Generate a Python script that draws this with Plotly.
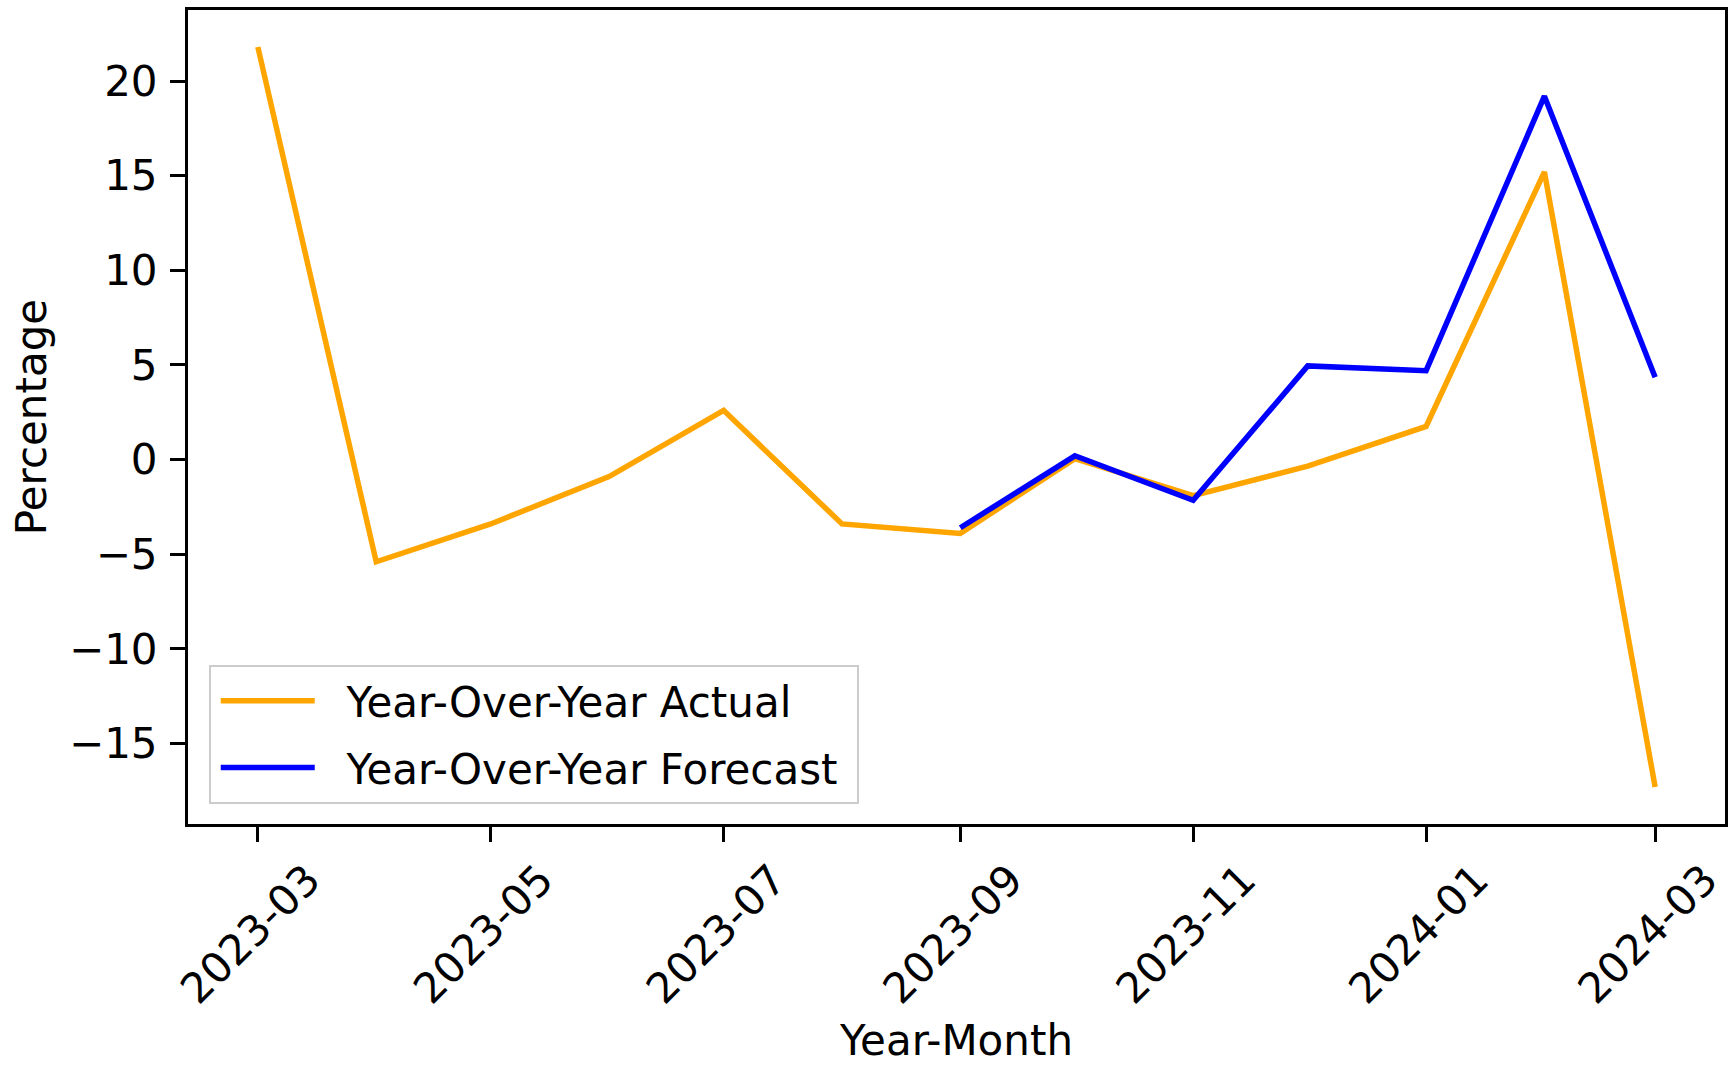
import plotly.graph_objects as go
import pandas as pd

months = ["2023-03", "2023-04", "2023-05", "2023-06", "2023-07", "2023-08", "2023-09",
          "2023-10", "2023-11", "2023-12", "2024-01", "2024-02", "2024-03"]
actual = [21.8, -5.4, -3.4, -0.9, 2.6, -3.4, -3.9, 0.05, -1.9, -0.35, 1.75, 15.2, -17.3]

forecast_months = ["2023-09", "2023-10", "2023-11", "2023-12", "2024-01", "2024-02", "2024-03"]
forecast = [-3.6, 0.2, -2.15, 4.95, 4.7, 19.2, 4.35]

x_ticks = ["2023-03", "2023-05", "2023-07", "2023-09", "2023-11", "2024-01", "2024-03"]

to_dt = lambda m: pd.to_datetime(m + "-01")
xa = [to_dt(m) for m in months]
xf = [to_dt(m) for m in forecast_months]

span = xa[-1] - xa[0]
xr = [xa[0] - span * 0.05, xa[-1] + span * 0.05]
ymin, ymax = min(actual + forecast), max(actual + forecast)
yr = [ymin - (ymax - ymin) * 0.05, ymax + (ymax - ymin) * 0.05]

font = "DejaVu Sans"
FS = 42
NB = "\u00a0\u00a0"
fig = go.Figure()
fig.add_trace(go.Scatter(x=xa, y=actual, mode="lines", name=NB + "Year-Over-Year Actual\u00a0",
                         line=dict(color="#FFA500", width=5.5), legendgroup="a"))
fig.add_trace(go.Scatter(x=xf, y=forecast, mode="lines", name=NB + "Year-Over-Year Forecast\u00a0",
                         line=dict(color="#0000FF", width=5.5), legendgroup="b"))

axis_common = dict(showline=True, linecolor="black", linewidth=3, mirror=True,
                   ticks="outside", ticklen=15, tickwidth=3, tickcolor="black",
                   showgrid=False, zeroline=False,
                   tickfont=dict(family=font, size=FS, color="black"))

fig.update_layout(
    width=1732, height=1065,
    margin=dict(l=188, r=4, t=10, b=241),
    plot_bgcolor="white", paper_bgcolor="white",
    font=dict(family=font, size=FS, color="black"),
    xaxis=dict(range=xr, tickvals=[to_dt(m) for m in x_ticks], ticktext=x_ticks,
               tickangle=-45, ticklabelshift=50, ticklabelstandoff=-4,
               title=dict(text="Year-Month", font=dict(family=font, size=FS), standoff=18),
               **axis_common),
    yaxis=dict(range=yr, dtick=5, tick0=0, ticklabelstandoff=4,
               title=dict(text="Percentage", font=dict(family=font, size=FS), standoff=10),
               **axis_common),
    legend=dict(x=0.0135, y=0.0245, xanchor="left", yanchor="bottom",
                bordercolor="#cccccc", borderwidth=2, bgcolor="rgba(255,255,255,0.8)",
                font=dict(family=font, size=FS), tracegroupgap=9, itemwidth=94,
                indentation=5),
    showlegend=True,
)

fig.write_html("out.html", config={"displayModeBar": False},
               post_script="document.body.style.margin='0';")
